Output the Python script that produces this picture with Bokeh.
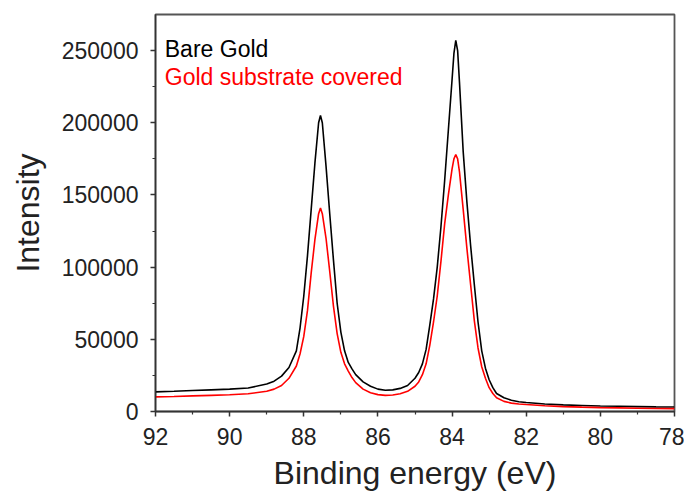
from bokeh.plotting import figure
from bokeh.models import Range1d, Label, FixedTicker, NumeralTickFormatter, ColumnDataSource
from bokeh.embed import file_html
from bokeh.resources import INLINE

# Binding energy (eV)
energy = [92.0, 91.5, 91.0, 90.5, 90.0, 89.5, 89.0,
          88.8, 88.6, 88.4, 88.2, 88.1, 88.0,
          87.9, 87.8, 87.7, 87.6, 87.55, 87.5, 87.4, 87.3, 87.2, 87.1, 87.0,
          86.9, 86.8, 86.7, 86.6, 86.4, 86.2, 86.0,
          85.8, 85.6, 85.4, 85.2, 85.0,
          84.9, 84.8, 84.7, 84.6, 84.5, 84.4, 84.3, 84.2, 84.1, 84.0,
          83.95, 83.9, 83.85, 83.8, 83.7, 83.6, 83.5, 83.4, 83.3, 83.2, 83.1, 83.0,
          82.9, 82.8, 82.6, 82.4, 82.2, 82.0,
          81.5, 81.0, 80.5, 80.0, 79.5, 79.0, 78.5, 78.0]

bare_gold = [13600, 14000, 14500, 15000, 15500, 16300, 19000,
             21000, 24500, 30500, 42000, 58000, 80000,
             108000, 140000, 172000, 200000, 205000, 200000, 170000, 137000, 105000, 75000, 55000,
             42000, 34000, 29500, 25500, 20500, 17500, 15500,
             14700, 15000, 16000, 18000, 23000,
             27000, 33000, 43000, 60000, 78000, 100000, 128000, 160000, 195000, 230000,
             248000, 257000, 250000, 228000, 180000, 145000, 115000, 88000, 62000, 42000, 30000, 22000,
             16500, 12500, 9500, 7800, 6800, 6200,
             5200, 4600, 4200, 3800, 3600, 3400, 3200, 3100]

covered = [10100, 10400, 10800, 11200, 11600, 12300, 14000,
           15500, 18000, 23000, 31500, 40000, 52000,
           70000, 96000, 119000, 137000, 141000, 137000, 120000, 97000, 73000, 54000, 41000,
           33000, 28000, 23500, 20000, 15500, 13000, 11700,
           11200, 11400, 12300, 14000, 17500,
           20500, 25500, 33000, 46000, 62000, 80000, 104000, 130000, 150000, 168000,
           175000, 178000, 175000, 166000, 140000, 113000, 88000, 63000, 44000, 31000, 23000, 16500,
           12500, 9500, 7000, 5800, 5200, 4800,
           4000, 3400, 3000, 2700, 2500, 2300, 2100, 2000]

series_names = ["Bare Gold", "Gold substrate covered"]
series_colors = ["#000000", "#ff0000"]

x_ticks = [92, 90, 88, 86, 84, 82, 80, 78]
x_minor = [91, 89, 87, 85, 83, 81, 79]
y_ticks = [0, 50000, 100000, 150000, 200000, 250000]
y_minor = [25000, 75000, 125000, 175000, 225000]

x_title = "Binding energy (eV)"
y_title = "Intensity"

FONT = "Liberation Sans"

p = figure(width=684, height=493, output_backend="svg", toolbar_location=None,
           x_range=Range1d(92, 78), y_range=Range1d(0, 275000),
           min_border_left=155, min_border_right=10, min_border_top=14, min_border_bottom=80)

src = ColumnDataSource(dict(x=energy, bare=bare_gold, cov=covered))
p.line("x", "bare", source=src, line_color=series_colors[0], line_width=1.6)
p.line("x", "cov", source=src, line_color=series_colors[1], line_width=1.6)

p.xgrid.visible = False
p.ygrid.visible = False
p.background_fill_color = "white"
p.border_fill_color = "white"
p.outline_line_color = "#555555"
p.outline_line_width = 1.8
p.outline_line_alpha = 1.0

p.xaxis.ticker = FixedTicker(ticks=x_ticks, minor_ticks=x_minor)
p.yaxis.ticker = FixedTicker(ticks=y_ticks, minor_ticks=y_minor)
p.yaxis.formatter = NumeralTickFormatter(format="0")

for ax in (p.xaxis[0], p.yaxis[0]):
    ax.axis_line_color = "#333333"
    ax.axis_line_width = 1.5
    ax.major_tick_line_color = "#333333"
    ax.major_tick_line_width = 1.5
    ax.minor_tick_line_color = "#333333"
    ax.minor_tick_line_width = 1.2
    ax.major_tick_in = 0
    ax.major_tick_out = 5
    ax.minor_tick_in = 0
    ax.minor_tick_out = 3
    ax.major_label_text_font = FONT
    ax.major_label_text_font_size = "23px"
    ax.major_label_text_color = "#222222"
    ax.axis_label_text_font = FONT
    ax.axis_label_text_font_size = "32px"
    ax.axis_label_text_font_style = "normal"
    ax.axis_label_text_color = "#222222"

p.xaxis.axis_label = x_title
p.yaxis.axis_label = y_title
p.xaxis.major_label_standoff = 11
p.xaxis.axis_label_standoff = 7
p.yaxis.major_label_standoff = 12
p.yaxis.axis_label_standoff = 13

p.add_layout(Label(x=91.75, y=251000, text=series_names[0], text_color=series_colors[0],
                   text_font=FONT, text_font_size="23px", text_baseline="middle"))
p.add_layout(Label(x=91.75, y=231500, text=series_names[1], text_color=series_colors[1],
                   text_font=FONT, text_font_size="23px", text_baseline="middle"))

open("out.html", "w").write(file_html(p, INLINE))
